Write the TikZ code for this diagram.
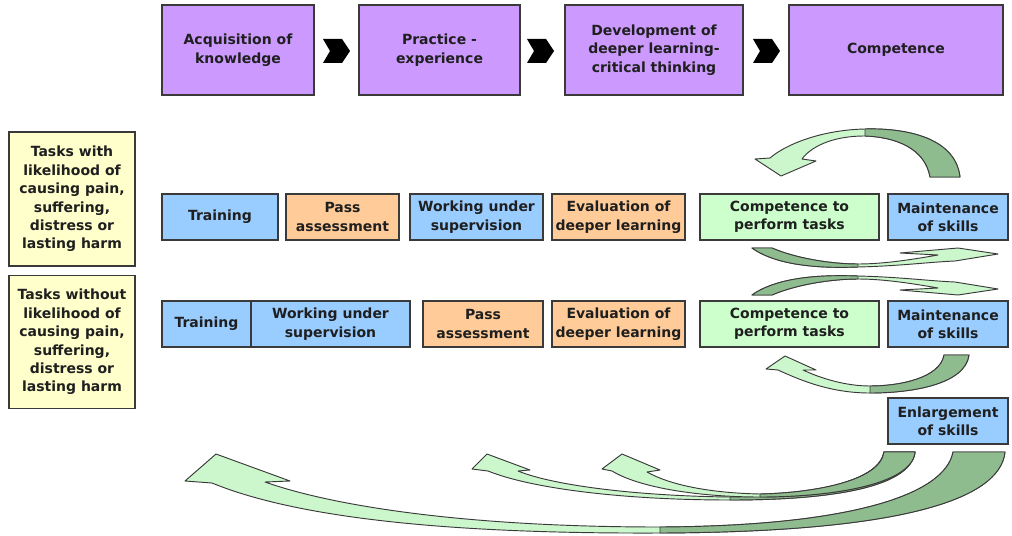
\documentclass[tikz,border=0pt]{standalone}
\usepackage{fontspec}
\setmainfont{DejaVu Sans}
\definecolor{purp}{HTML}{CC99FF}
\definecolor{bl}{HTML}{99CCFF}
\definecolor{org}{HTML}{FFCC99}
\definecolor{grn}{HTML}{CCFFCC}
\definecolor{yel}{HTML}{FFFFCC}
\definecolor{arl}{HTML}{CCF7CC}
\definecolor{ard}{HTML}{8FBC8F}
\definecolor{edge}{HTML}{3A3A3A}
\tikzset{
  bx/.style={draw=edge, line width=0.8pt, inner sep=0pt, align=center,
    font=\bfseries\fontsize{10.5}{13.8}\selectfont, text=black!88},
  sz/.style 2 args={minimum width=#1*0.75pt, minimum height=#2*0.75pt},
  pbox/.style={bx, fill=purp},
  bbox/.style={bx, fill=bl},
  obox/.style={bx, fill=org},
  gbox/.style={bx, fill=grn},
  ybox/.style={bx, fill=yel, font=\bfseries\fontsize{10.5}{13.8}\selectfont},
  arrl/.style={fill=arl, draw=edge, line width=0.7pt, line join=round},
  arrd/.style={fill=ard, draw=edge, line width=0.7pt, line join=round},
  chev/.style={fill=black},
}
\begin{document}
\begin{tikzpicture}[x=0.75pt, y=-0.75pt]
\useasboundingbox (0,0) rectangle (1012,535);

% top row
\node[pbox, sz={152}{90}] (p1) at (238,50) {Acquisition of\\knowledge};
\node[pbox, sz={161}{90}] (p2) at (439.5,50) {Practice -\\experience};
\node[pbox, sz={178}{90}] (p3) at (654,50) {Development of\\deeper learning-\\critical thinking};
\node[pbox, sz={214}{90}] (p4) at (896,50) {Competence};

% chevrons
\foreach \x in {323,527,753}{
  \fill[chev] (\x,39) -- (\x+19,39) -- (\x+27,51) -- (\x+19,63) -- (\x,63) -- (\x+7,51) -- cycle;
}

% side labels
\node[ybox, sz={126}{134}] (y1) at (72,199) {Tasks with\\likelihood of\\causing pain,\\suffering,\\distress or\\lasting harm};
\node[ybox, sz={126}{133}] (y2) at (72,342) {Tasks without\\likelihood of\\causing pain,\\suffering,\\distress or\\lasting harm};

% row 1
\node[bbox, sz={116}{46}] (r1a) at (220,217) {Training};
\node[obox, sz={113}{46}] (r1b) at (342.5,217) {Pass\\assessment};
\node[bbox, sz={133}{46}] (r1c) at (476.5,217) {Working under\\supervision};
\node[obox, sz={133}{46}] (r1d) at (618.5,217) {Evaluation of\\deeper learning};
\node[gbox, sz={179}{46}] (r1e) at (789.5,217) {Competence to\\perform tasks};
\node[bbox, sz={120}{46}] (r1f) at (948,217) {Maintenance\\of skills};

% row 2
\node[bbox, sz={89}{46}] (r2a) at (206.5,324) {Training};
\node[bbox, sz={159}{46}] (r2b) at (330.5,324) {Working under\\supervision};
\node[obox, sz={120}{46}] (r2c) at (483,324) {Pass\\assessment};
\node[obox, sz={133}{46}] (r2d) at (618.5,324) {Evaluation of\\deeper learning};
\node[gbox, sz={179}{46}] (r2e) at (789.5,324) {Competence to\\perform tasks};
\node[bbox, sz={120}{46}] (r2f) at (948,324) {Maintenance\\of skills};
\node[bbox, sz={120}{46}] (enl) at (948,421) {Enlargement\\of skills};

% top loop arrow
\path[arrl] (960,177) .. controls (955,135) and (900,128) .. (865,129) .. controls (820,130) and (785,145) .. (770,158) -- (755,159) -- (781,176) -- (816,161) -- (802,159) .. controls (810,148) and (830,136) .. (865,136) .. controls (895,137) and (925,148) .. (930,177) -- cycle;
\path[arrd] (960,177) .. controls (955,135) and (900,128) .. (865,129) -- (865,136) .. controls (895,137) and (925,148) .. (930,177) -- cycle;

% middle arrow A
\path[arrl] (752,248) .. controls (780,268) and (830,268) .. (858,267) .. controls (900,266) and (930,262) .. (955,261) -- (998,254) -- (958,248) -- (900,253) -- (938,255) .. controls (915,259) and (885,264) .. (858,264) .. controls (830,264) and (795,258) .. (772,248) -- cycle;
\path[arrd] (752,248) .. controls (780,268) and (830,268) .. (858,267) -- (858,264) .. controls (830,264) and (795,258) .. (772,248) -- cycle;

% middle arrow B
\path[arrl] (752,295) .. controls (780,275) and (830,275) .. (858,276) .. controls (900,277) and (930,281) .. (955,282) -- (998,289) -- (958,295) -- (900,290) -- (938,288) .. controls (915,284) and (885,279) .. (858,279) .. controls (830,279) and (795,285) .. (772,295) -- cycle;
\path[arrd] (752,295) .. controls (780,275) and (830,275) .. (858,276) -- (858,279) .. controls (830,279) and (795,285) .. (772,295) -- cycle;

% bottom loop arrow
\path[arrl] (969,355) .. controls (965,385) and (910,393) .. (870,393) .. controls (830,393) and (800,380) .. (778,370) -- (766,369) -- (785,356) -- (816,370) -- (803,370) .. controls (820,378) and (845,386) .. (870,386) .. controls (900,386) and (940,378) .. (944,355) -- cycle;
\path[arrd] (969,355) .. controls (965,385) and (910,393) .. (870,393) -- (870,386) .. controls (900,386) and (940,378) .. (944,355) -- cycle;

% big arrow
\path[arrl] (1005,452) .. controls (1000,500) and (900,532) .. (660,533) .. controls (430,534) and (290,515) .. (212,483) -- (185,481) -- (216,454) -- (290,481) -- (265,482) .. controls (330,505) and (460,527) .. (660,527) .. controls (850,526) and (945,495) .. (953,452) -- cycle;
\path[arrd] (1005,452) .. controls (1000,500) and (900,532) .. (660,533) -- (660,527) .. controls (850,526) and (945,495) .. (953,452) -- cycle;

% medium arrow 1
\path[arrl] (915,452) .. controls (910,490) and (820,500) .. (730,500) .. controls (620,500) and (530,488) .. (488,471) -- (472,469) -- (487,454) -- (530,470) -- (518,471) .. controls (555,486) and (640,496) .. (730,497) .. controls (800,496) and (878,485) .. (884,452) -- cycle;
\path[arrd] (915,452) .. controls (910,490) and (820,500) .. (730,500) -- (730,497) .. controls (800,496) and (878,485) .. (884,452) -- cycle;

% medium arrow 2
\path[arrl] (915,452) .. controls (912,485) and (830,497) .. (760,497) .. controls (700,497) and (640,488) .. (612,471) -- (602,469) -- (622,454) -- (660,470) -- (647,472) .. controls (670,485) and (710,493) .. (760,494) .. controls (810,493) and (880,482) .. (884,452) -- cycle;
\path[arrd] (915,452) .. controls (912,485) and (830,497) .. (760,497) -- (760,494) .. controls (810,493) and (880,482) .. (884,452) -- cycle;
\end{tikzpicture}
\end{document}
